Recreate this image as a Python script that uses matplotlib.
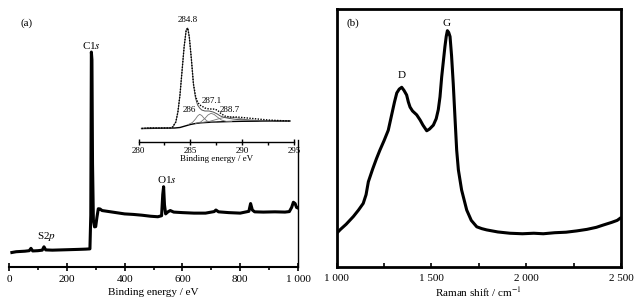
"""XPS survey with C1s inset (a) and Raman spectrum (b)."""

import matplotlib
matplotlib.use("Agg")
import matplotlib.pyplot as plt
from matplotlib.ticker import MultipleLocator, FuncFormatter

plt.rcParams['font.family'] = ['Liberation Serif', 'DejaVu Serif']
plt.rcParams['mathtext.fontset'] = 'stix'

# (a) XPS survey, binding energy (eV) vs intensity (a.u.)
survey_x = [10, 25, 40, 55, 70, 76, 82, 100, 115, 121, 127, 150, 180, 210, 240,
            265, 280, 283, 285, 287, 289, 292, 296, 300, 304, 309, 315, 322,
            340, 370, 400, 430, 460, 490, 515, 528, 532, 535, 538, 542, 550,
            558, 570, 600, 640, 680, 710, 716, 725, 760, 800, 830, 836, 842,
            850, 880, 920, 955, 970, 978, 984, 990, 995, 999]
survey_y = [5.6, 5.9, 6.0, 6.1, 6.3, 7.2, 6.2, 6.3, 6.5, 7.8, 6.6, 6.5, 6.6,
            6.7, 6.8, 6.9, 7.0, 20, 83, 80, 40, 18, 15.5, 15.6, 19, 22.5, 22.4,
            21.8, 21.5, 21.0, 20.5, 20.3, 20.0, 19.6, 19.4, 19.8, 28, 31, 24,
            20.5, 21.3, 21.8, 21.2, 21.0, 20.8, 20.8, 21.4, 22, 21.3, 21.0,
            20.8, 21.5, 24.5, 22, 21.3, 21.2, 21.3, 21.2, 21.4, 23, 25, 24.5,
            23, 22.8]

# inset: C1s high resolution
c1s_x = [280.3, 281, 282, 283, 283.3, 283.6, 283.8, 284.0, 284.2, 284.4, 284.6,
         284.75, 284.9, 285.1, 285.3, 285.5, 285.7, 285.9, 286.1, 286.4, 286.8,
         287.2, 287.6, 287.9, 288.3, 288.8, 289.5, 290.5, 291.5, 292.5, 293.5,
         294.6]
c1s_raw = [13.5, 14, 14, 14, 15, 20, 30, 47, 71, 95, 112, 114, 105, 83, 58, 46,
           40, 37, 36, 34, 33, 33, 32, 29, 26, 25, 25, 24, 23, 22, 21.5, 21]
c1s_fit = [13.5, 14, 14, 14, 15, 20, 30, 47, 71, 95, 112, 114, 105, 83, 58, 44,
           37, 34, 32, 31, 31, 30, 28, 26, 24.5, 23.5, 22.5, 22, 21.5, 21.2, 21,
           21]
bg_x = [280.3, 283.5, 284.0, 284.5, 285, 285.5, 286, 287, 288, 289, 290, 292, 294.6]
bg_y = [13.5, 14, 14.5, 16, 17.5, 18.5, 19.2, 19.8, 20.2, 20.5, 20.7, 20.9, 21]
p286_x = [284.8, 285.2, 285.5, 285.7, 285.9, 286.1, 286.3, 286.6, 287.0, 287.5]
p286_y = [17.5, 19.5, 23, 26, 27.7, 26.5, 24, 21, 20, 20]
p287_x = [285.5, 286.0, 286.4, 286.7, 287.0, 287.3, 287.6, 288.0, 288.5, 289.0]
p287_y = [18.5, 20, 23.5, 27, 28.7, 27.5, 25, 22, 20.5, 20.5]
p288_x = [286.0, 286.8, 287.5, 288.0, 288.7, 289.4, 290.0, 290.8, 291.8, 293.0]
p288_y = [19.3, 20.5, 22.5, 24, 25, 24.3, 23, 21.8, 21.2, 21]

# (b) Raman spectrum
raman_x = [1000, 1020, 1050, 1088, 1115, 1140, 1155, 1167, 1190, 1210, 1228,
           1250, 1272, 1290, 1305, 1317, 1330, 1343, 1355, 1369, 1378, 1387,
           1400, 1422, 1440, 1455, 1466, 1475, 1490, 1510, 1525, 1536, 1545,
           1554, 1563, 1571, 1578, 1584, 1591, 1598, 1606, 1615, 1624, 1633,
           1642, 1659, 1686, 1710, 1739, 1765, 1791, 1850, 1914, 1980, 2040,
           2090, 2150, 2210, 2266, 2320, 2370, 2407, 2450, 2480, 2495]
raman_y = [13, 14.5, 16.5, 19.5, 22, 24.6, 28, 33, 38, 42, 45.3, 49, 53, 59, 64,
           67.5, 69, 69.7, 68.5, 66.7, 64, 62, 60.5, 59, 57, 55, 53.8, 52.8, 53.5,
           55, 57.5, 61, 66, 73.8, 80, 85.5, 89.5, 91.7, 91, 89.4, 82, 71, 58,
           45.3, 37.6, 29.8, 22, 18, 15.5, 14.8, 14.3, 13.5, 13, 12.8, 13, 12.8,
           13.2, 13.4, 13.9, 14.5, 15.3, 16.2, 17.2, 18, 18.8]


def spaced(v, pos):
    # thousands written as "1 000"
    s = "%d" % v
    if len(s) > 3:
        s = s[:-3] + " " + s[-3:]
    return s


W, H = 638.0, 304.0
fig = plt.figure(figsize=(6.38, 3.04), dpi=100)

# ---- panel (a)
ax = fig.add_axes([9 / W, (H - 267) / H, 289 / W, 259 / H])
ax.plot(survey_x, survey_y, color='black', lw=2.2)
ax.set_xlim(0, 1000)
ax.set_ylim(0, 100)
ax.spines['left'].set_visible(False)
ax.spines['top'].set_visible(False)
ax.spines['right'].set_bounds(0, 49)
ax.spines['right'].set_linewidth(1.0)
ax.spines['bottom'].set_linewidth(1.5)
ax.set_yticks([])
ax.xaxis.set_major_locator(MultipleLocator(200))
ax.xaxis.set_minor_locator(MultipleLocator(100))
ax.xaxis.set_major_formatter(FuncFormatter(spaced))
ax.tick_params(axis='x', which='major', direction='inout', length=6, width=1.2,
               labelsize=8, pad=3)
ax.tick_params(axis='x', which='minor', direction='out', length=2.5, width=1.2)
ax.set_xlabel('Binding energy / eV', fontsize=8, labelpad=2.5)
ax.text(62, 94, '(a)', fontsize=8, ha='center', va='center')
ax.text(287, 85.7, 'C1$s$', fontsize=8, ha='center', va='center')
ax.text(547, 33.6, 'O1$s$', fontsize=8, ha='center', va='center')
ax.text(131, 11.6, 'S2$p$', fontsize=8, ha='center', va='center')

# ---- inset
ins = fig.add_axes([138.5 / W, (H - 142) / H, 155.5 / W, 122 / H])
ins.set_facecolor('none')
ins.plot(bg_x, bg_y, color='black', lw=1.0)
ins.plot(p286_x, p286_y, color='#777777', lw=0.6)
ins.plot(p287_x, p287_y, color='#777777', lw=0.6)
ins.plot(p288_x, p288_y, color='#777777', lw=0.6)
ins.plot(c1s_x, c1s_fit, color='#555555', lw=0.7)
ins.plot(c1s_x, c1s_raw, color='black', lw=1.0, ls=(0, (1, 1)))
ins.set_xlim(280, 295)
ins.set_ylim(0, 122)
for side in ['left', 'top', 'right']:
    ins.spines[side].set_visible(False)
ins.spines['bottom'].set_linewidth(1.0)
ins.set_yticks([])
ins.xaxis.set_major_locator(MultipleLocator(5))
ins.xaxis.set_minor_locator(MultipleLocator(2.5))
ins.tick_params(axis='x', which='major', direction='inout', length=5, width=1,
                labelsize=6.5, pad=1)
ins.tick_params(axis='x', which='minor', direction='out', length=2, width=1)
ins.set_xlabel('Binding energy / eV', fontsize=6.5, labelpad=0)
ins.text(284.75, 122, '284.8', fontsize=6.5, ha='center', va='center')
ins.text(284.95, 32, '286', fontsize=6.5, ha='center', va='center')
ins.text(287.09, 41.3, '287.1', fontsize=6.5, ha='center', va='center')
ins.text(288.83, 32, '288.7', fontsize=6.5, ha='center', va='center')

# ---- panel (b)
bx = fig.add_axes([336.7 / W, (H - 266.7) / H, 284.3 / W, 257.4 / H])
bx.plot(raman_x, raman_y, color='black', lw=2.2)
bx.set_xlim(1000, 2500)
bx.set_ylim(0, 100)
for side in bx.spines:
    bx.spines[side].set_linewidth(2)
bx.set_yticks([])
bx.xaxis.set_major_locator(MultipleLocator(500))
bx.xaxis.set_minor_locator(MultipleLocator(250))
bx.xaxis.set_major_formatter(FuncFormatter(spaced))
bx.tick_params(axis='x', which='both', direction='in', length=3, width=1.2,
               labelsize=8, pad=5)
bx.set_xlabel('Raman shift / cm$^{-1}$', fontsize=8, labelpad=2)
bx.text(1086, 94.6, '(b)', fontsize=8, ha='center', va='center')
bx.text(1343, 74.1, 'D', fontsize=8, ha='center', va='center')
bx.text(1580, 94.6, 'G', fontsize=8, ha='center', va='center')

fig.savefig('out.png', dpi=100)
